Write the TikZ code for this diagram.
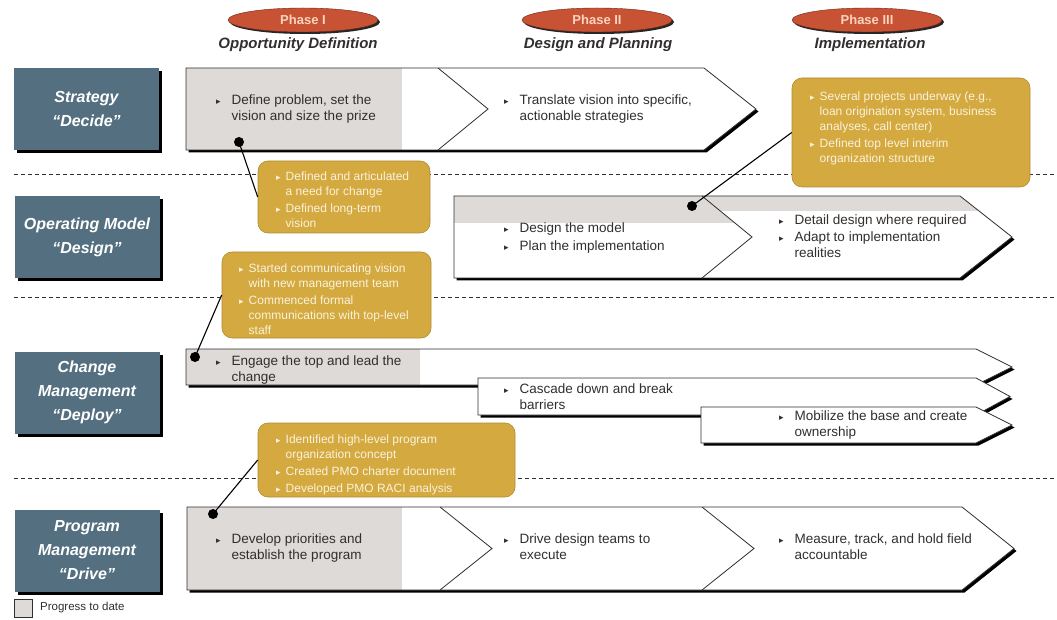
\documentclass[tikz,border=0pt]{standalone}
\usepackage{fontspec}
\setmainfont{Liberation Sans}
\newfontfamily\symfont{DejaVu Sans}
\usepackage{tikz}
\usetikzlibrary{positioning, shapes.geometric, shadows, calc}
\definecolor{SB}{RGB}{84,112,128}
\definecolor{PR}{RGB}{222,218,216}
\definecolor{GD}{RGB}{212,170,64}
\definecolor{GDd}{RGB}{176,138,48}
\definecolor{OR}{RGB}{200,82,52}
\definecolor{ORd}{RGB}{110,40,22}
\definecolor{PK}{RGB}{250,212,190}
\definecolor{CW}{RGB}{250,242,220}
\definecolor{DG}{RGB}{50,46,46}
\newcommand{\bul}{{\symfont\fontsize{9}{9}\selectfont ▸}}
\newcommand{\blist}[2][11pt]{\begin{tabular}{@{}l@{\hspace{#1}}l@{}}#2\end{tabular}}

\begin{document}
\begin{tikzpicture}[x=1pt, y=-1pt,
  lane/.style={fill=SB, minimum width=145pt, minimum height=82pt,
               align=center, text=white, inner sep=0pt,
               font=\fontsize{16}{24}\selectfont\bfseries\itshape,
               drop shadow={shadow xshift=3pt, shadow yshift=-3pt, fill=black, opacity=1}},
  phase/.style={ellipse, fill=OR, draw=ORd, minimum width=150pt, minimum height=24pt,
                inner sep=0pt, text=PK, font=\fontsize{13}{13}\selectfont\bfseries,
                drop shadow={shadow xshift=2pt, shadow yshift=-2pt, fill=black!85, opacity=1}},
  head/.style={font=\fontsize{15}{15}\selectfont\bfseries\itshape, text=DG},
  band/.style={fill=white, drop shadow={shadow xshift=2.5pt, shadow yshift=-2.5pt, fill=black, opacity=1}},
  outl/.style={draw=DG, line width=0.8pt},
  prog/.style={fill=PR},
  txt/.style={anchor=west, inner sep=0pt, text=DG, font=\fontsize{13.5}{16.5}\selectfont},
  callout/.style={draw=GDd, fill=GD, rounded corners=10pt, line width=0.6pt},
  ntxt/.style={anchor=north west, inner sep=0pt, text=CW, font=\fontsize{12}{15}\selectfont},
  dot/.style={circle, fill=black, inner sep=0pt, minimum size=10pt},
  link/.style={draw=black, line width=1.1pt},
  divider/.style={draw=DG, dash pattern=on 4pt off 3pt, line width=0.8pt}
]
\useasboundingbox (0,0) rectangle (1057,620);

% Row separators
\foreach \y in {174,297,478}
  \draw[divider] (14,\y) -- (1057,\y);

% Phase headers
\node[phase] (p1) at (303,20) {Phase I};
\node[phase] (p2) at (597,20) {Phase II};
\node[phase] (p3) at (867,20) {Phase III};
\node[head] (h1) at (298,45) {Opportunity Definition};
\node[head] (h2) at (598,45) {Design and Planning};
\node[head] (h3) at (870,45) {Implementation};

% Lanes
\node[lane] (l1) at (86.5,109) {Strategy\\“Decide”};
\node[lane] (l2) at (87,237.5) {Operating Model\\“Design”};
\node[lane] (l3) at (87,392.5) {Change\\Management\\“Deploy”};
\node[lane] (l4) at (87,550.5) {Program\\Management\\“Drive”};

% Strategy row
\fill[band] (186,68) -- (704,68) -- (756,109) -- (704,150) -- (186,150) -- cycle;
\fill[prog] (186,68) rectangle (402,150);
\draw[outl] (186,68) -- (704,68) -- (756,109) -- (704,150) -- (186,150) -- cycle;
\draw[outl] (438,68) -- (488,109) -- (438,150);
\node[txt] (t1) at (216,109) {\blist{\bul & Define problem, set the\\ & vision and size the prize}};
\node[txt] (t2) at (504,109) {\blist{\bul & Translate vision into specific,\\ & actionable strategies}};

% Operating model row
\fill[band] (454,196) -- (960,196) -- (1012,237) -- (960,278) -- (454,278) -- cycle;
\fill[prog] (454,196) -- (702,196) -- (735,223) -- (454,223) -- cycle;
\fill[prog] (702,196) -- (960,196) -- (979,211) -- (720,211) -- cycle;
\draw[outl] (454,196) -- (960,196) -- (1012,237) -- (960,278) -- (454,278) -- cycle;
\draw[outl] (702,196) -- (752,237) -- (702,278);
\node[txt] (t3) at (504,238) {\blist{\bul & Design the model\\[1.5pt] \bul & Plan the implementation}};
\node[txt] (t4) at (779,238) {\blist{\bul & Detail design where required\\ \bul & Adapt to implementation\\ & realities}};

% Change management row
\fill[band] (186,349) -- (976,349) -- (1012,367) -- (976,385) -- (186,385) -- cycle;
\fill[prog] (186,349) rectangle (420,385);
\draw[outl] (186,349) -- (976,349) -- (1012,367) -- (976,385) -- (186,385) -- cycle;
\filldraw[band, outl] (478,378) -- (976,378) -- (1010,396.5) -- (976,415) -- (478,415) -- cycle;
\filldraw[band, outl] (701,407) -- (976,407) -- (1012,425) -- (976,443) -- (701,443) -- cycle;
\node[txt] (t5) at (216,370) {\blist{\bul & Engage the top and lead the\\ & change}};
\node[txt] (t6) at (504,398) {\blist{\bul & Cascade down and break\\ & barriers}};
\node[txt] (t7) at (779,425) {\blist{\bul & Mobilize the base and create\\ & ownership}};

% Program management row
\fill[band] (187,507) -- (962,507) -- (1014,548.5) -- (962,590) -- (187,590) -- cycle;
\fill[prog] (187,507) rectangle (402,590);
\draw[outl] (187,507) -- (962,507) -- (1014,548.5) -- (962,590) -- (187,590) -- cycle;
\draw[outl] (440,507) -- (492,548.5) -- (440,590);
\draw[outl] (702,507) -- (754,548.5) -- (702,590);
\node[txt] (t8) at (216,548) {\blist{\bul & Develop priorities and\\ & establish the program}};
\node[txt] (t9) at (504,548) {\blist{\bul & Drive design teams to\\ & execute}};
\node[txt] (t10) at (779,548) {\blist{\bul & Measure, track, and hold field\\ & accountable}};

% Progress callouts
\node[callout, minimum width=172pt, minimum height=72pt] (c1) at (344,197) {};
\node[ntxt] (c1t) at (276,170) {\blist[5pt]{\bul & Defined and articulated\\ & a need for change\\[2pt] \bul & Defined long-term\\ & vision}};
\node[callout, minimum width=209pt, minimum height=86pt] (c2) at (326.5,295) {};
\node[ntxt] (c2t) at (239,262) {\blist[5pt]{\bul & Started communicating vision\\ & with new management team\\[2pt] \bul & Commenced formal\\ & communications with top-level\\ & staff}};
\node[callout, minimum width=238pt, minimum height=109pt] (c3) at (911,132.5) {};
\node[ntxt] (c3t) at (810,90) {\blist[5pt]{\bul & Several projects underway (e.g.,\\ & loan origination system, business\\ & analyses, call center)\\[2pt] \bul & Defined top level interim\\ & organization structure}};
\node[callout, minimum width=257pt, minimum height=74pt] (c4) at (386.5,460) {};
\node[ntxt] (c4t) at (276,433) {\blist[5pt]{\bul & Identified high-level program\\ & organization concept\\[2pt] \bul & Created PMO charter document\\[2pt] \bul & Developed PMO RACI analysis}};

% Progress markers
\node[dot] (d1) at (239,142) {};
\node[dot] (d2) at (692,206) {};
\node[dot] (d3) at (195,357) {};
\node[dot] (d4) at (213,514) {};
\draw[link] (d1.center) -- (c1.west);
\draw[link] (d2.center) -- (c3.west);
\draw[link] (d3.center) -- (c2.west);
\draw[link] (d4.center) -- (c4.west);

% Legend
\node[draw=DG, fill=PR, minimum size=18pt, inner sep=0pt] (lg) at (23.5,608.5) {};
\node[anchor=west, inner sep=0pt, text=DG, font=\fontsize{11.5}{11.5}\selectfont] (lgt) at (40,608) {Progress to date};
\end{tikzpicture}
\end{document}
